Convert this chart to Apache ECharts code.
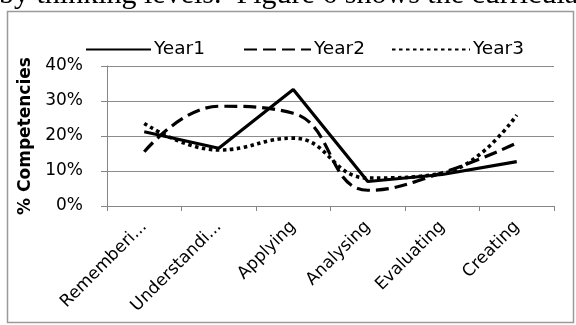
<!DOCTYPE html>
<html>
<head>
<meta charset="utf-8">
<script src="https://cdn.jsdelivr.net/npm/echarts@6/dist/echarts.min.js"></script>
<style>
html,body{margin:0;padding:0;background:#fff;}
#chart{width:576px;height:325px;}
</style>
</head>
<body>
<div id="chart"></div>
<script>
const categories = ['Rememberi...', 'Understandi...', 'Applying', 'Analysing', 'Evaluating', 'Creating'];
const year1 = [21.2, 16.5, 33.3, 7.0, 9.0, 12.7];
const year2 = [15.5, 28.5, 26.5, 4.5, 9.5, 18.0];
const year3 = [23.6, 16.0, 19.4, 8.0, 9.3, 26.0];
const yTicks = [0, 10, 20, 30, 40];
const seriesNames = ['Year1', 'Year2', 'Year3'];

const FONT = '"DejaVu Sans", sans-serif';
const legendLefts = [80, 238, 386];
const legendWidths = [65, 67, 78];
const legends = seriesNames.map((n, i) => ({
  data: [n],
  left: legendLefts[i], top: 35,
  itemWidth: legendWidths[i], itemHeight: 16, itemGap: 0,
  itemStyle: { opacity: 0 },
  textStyle: { fontFamily: FONT, fontSize: 18.5, color: '#000', padding: [0, 0, 0, -2] }
}));

const chart = echarts.init(document.getElementById('chart'));
chart.setOption({
  backgroundColor: '#fff',
  animation: false,
  graphic: [
    {
      type: 'rect', silent: true,
      shape: { x: 7.5, y: 11.5, width: 566, height: 311 },
      style: { fill: 'none', stroke: '#9a9a9a', lineWidth: 1.5 }
    },
    {
      type: 'text', silent: true, x: -1, y: -4.5,
      style: { text: 'by thinking levels.  Figure 6 shows the curricula', font: '30px "Liberation Serif", serif', fill: '#000', verticalAlign: 'middle', align: 'left' }
    }
  ],
  legend: legends,
  grid: { left: 107, right: 22, top: 66, bottom: 119, containLabel: false },
  xAxis: {
    type: 'category',
    data: categories,
    boundaryGap: true,
    axisLine: { lineStyle: { color: '#868686', width: 1 } },
    axisTick: { show: true, length: 5, inside: false, lineStyle: { color: '#868686' } },
    axisLabel: { rotate: 45, fontFamily: FONT, fontSize: 17, color: '#000', margin: 18, interval: 0 }
  },
  yAxis: {
    type: 'value',
    min: yTicks[0], max: yTicks[yTicks.length - 1], interval: 10,
    name: '% Competencies',
    nameLocation: 'middle',
    nameGap: 70,
    nameTextStyle: { fontFamily: FONT, fontSize: 17, fontWeight: 'bold', color: '#000' },
    axisLine: { show: true, lineStyle: { color: '#868686', width: 1 } },
    axisTick: { show: true, length: 6, lineStyle: { color: '#868686' } },
    splitLine: { lineStyle: { color: '#8c8c8c', width: 1 } },
    axisLabel: { formatter: '{value}%', fontFamily: FONT, fontSize: 17, color: '#000', margin: 24 }
  },
  series: [
    {
      name: seriesNames[0], type: 'line', data: year1, smooth: false,
      symbol: 'none', showSymbol: false, color: '#000',
      lineStyle: { color: '#000', width: 3.2, type: 'solid' }
    },
    {
      name: seriesNames[1], type: 'line', data: year2, smooth: 0.45,
      symbol: 'none', showSymbol: false, color: '#000',
      lineStyle: { color: '#000', width: 3.2, type: [13, 6] }
    },
    {
      name: seriesNames[2], type: 'line', data: year3, smooth: 0.45,
      symbol: 'none', showSymbol: false, color: '#000',
      lineStyle: { color: '#000', width: 3.6, type: [3.5, 3.5] }
    }
  ]
});
</script>
</body>
</html>
